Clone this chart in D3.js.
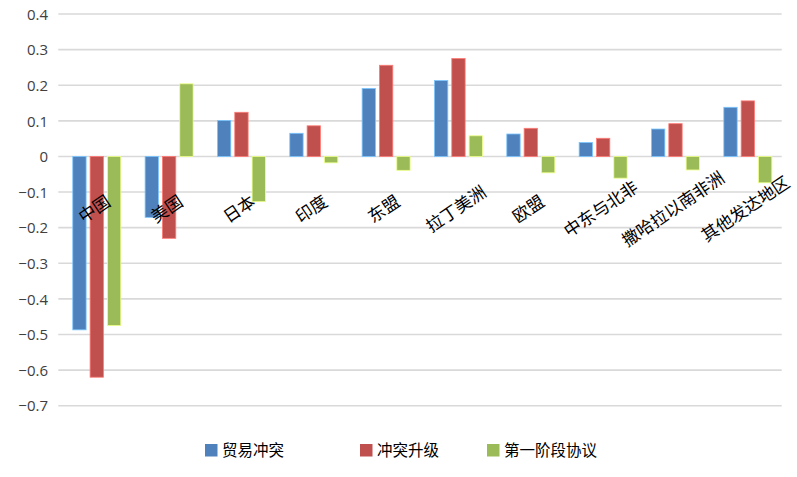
<!DOCTYPE html>
<html><head><meta charset="utf-8">
<script src="https://cdn.jsdelivr.net/npm/d3@7"></script>
<style>body{margin:0;background:#fff}</style>
</head><body>
<svg id="c" width="797" height="477"></svg>
<script>
const categories = ["中国","美国","日本","印度","东盟","拉丁美洲","欧盟","中东与北非","撒哈拉以南非洲","其他发达地区"];
const seriesNames = ["贸易冲突","冲突升级","第一阶段协议"];
const tradeConflict = [-0.487,-0.171,0.101,0.065,0.191,0.213,0.063,0.039,0.077,0.138];
const escalation    = [-0.620,-0.230,0.124,0.086,0.256,0.275,0.079,0.051,0.092,0.156];
const phaseOne      = [-0.475,0.204,-0.127,-0.018,-0.039,0.058,-0.046,-0.061,-0.038,-0.074];
const yTicks = [0.4,0.3,0.2,0.1,0,-0.1,-0.2,-0.3,-0.4,-0.5,-0.6,-0.7];
const colors = ["#4f81bd","#c0504d","#9bbb59"];
const series = [tradeConflict, escalation, phaseOne];

const svg = d3.select("#c");
const x0 = 58.3, x1 = 781.7;
const y = d3.scaleLinear().domain([-0.7,0.4]).range([405.7,14]);
const x = d3.scaleBand().domain(categories).range([x0,x1]);
const xs = d3.scaleBand().domain(d3.range(3)).range([-21.7,26.3]).paddingInner(0.23).paddingOuter(0);

// gridlines
svg.append("g").selectAll("line").data(yTicks).join("line")
  .attr("x1",x0).attr("x2",x1)
  .attr("y1",d=>y(d)).attr("y2",d=>y(d))
  .attr("stroke","#d9d9d9").attr("stroke-width",1.6);

// y axis labels
const yAxis = d3.axisLeft(y).tickValues(yTicks).tickSize(0).tickPadding(0)
  .tickFormat(d=> d===0 ? "0" : d3.format(".1f")(d));
const ga = svg.append("g").attr("transform","translate(48,0)").call(yAxis);
ga.select(".domain").remove();
ga.selectAll("text").attr("font-family","'Open Sans','Noto Sans',sans-serif").attr("font-size",15).attr("fill","#404040").attr("dy","0.35em");

// bars
series.forEach((vals,si)=>{
  svg.append("g").selectAll("rect").data(vals).join("rect")
    .attr("x",(d,i)=>x(categories[i])+x.bandwidth()/2+xs(si))
    .attr("width",xs.bandwidth())
    .attr("y",d=>Math.min(y(d),y(0)))
    .attr("height",d=>Math.abs(y(d)-y(0)))
    .attr("fill",colors[si])
    .attr("stroke",d3.color(colors[si]).brighter(1.2))
    .attr("stroke-width",0.8);
});

// category labels
svg.append("g").selectAll("text").data(categories).join("text")
  .attr("transform",d=>`translate(${x(d)+x.bandwidth()/2},209) rotate(-34)`)
  .attr("text-anchor","middle")
  .attr("dy","0.35em")
  .attr("font-family","'Noto Sans CJK SC',sans-serif")
  .attr("font-size",17)
  .attr("fill","#000")
  .text(d=>d);

// legend
const legX = [205,360,487];
const lg = svg.append("g");
seriesNames.forEach((n,i)=>{
  lg.append("rect").attr("x",legX[i]).attr("y",444).attr("width",12.5).attr("height",12.5).attr("fill",colors[i]);
  lg.append("text").attr("x",legX[i]+17).attr("y",450.5).attr("dy","0.35em")
    .attr("font-family","'Noto Sans CJK SC',sans-serif").attr("font-size",15.5).attr("fill","#000").text(n);
});
</script>
</body></html>
